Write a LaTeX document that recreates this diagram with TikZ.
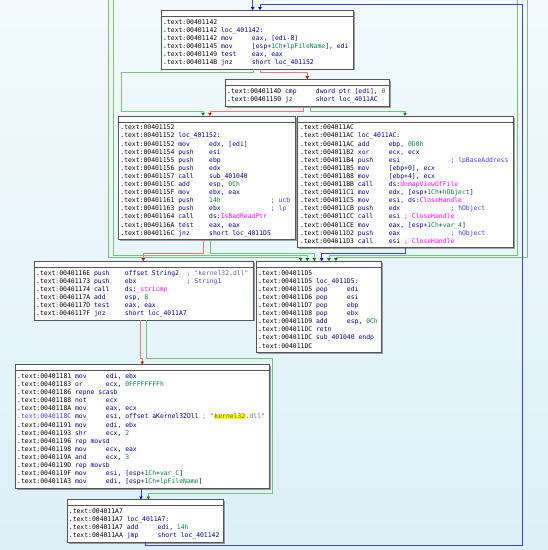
\documentclass[tikz,border=0pt]{standalone}
\usepackage{fontspec}
\usepackage{xcolor}
\usetikzlibrary{arrows.meta}
\usetikzlibrary{shadows}
\newfontfamily\idafont{DejaVu Sans Mono}
\definecolor{idanavy}{RGB}{0,0,128}
\definecolor{idanum}{RGB}{0,128,64}
\definecolor{idaimp}{RGB}{255,0,255}
\definecolor{idacmt}{RGB}{60,60,240}
\definecolor{idastr}{RGB}{100,100,135}
\definecolor{idaframe}{RGB}{85,85,85}
\definecolor{idayel}{RGB}{255,255,0}
\definecolor{idagreen}{RGB}{120,195,120}
\definecolor{idared}{RGB}{235,120,120}
\definecolor{idablue}{RGB}{60,60,235}
\definecolor{greentip}{RGB}{0,120,0}
\definecolor{redtip}{RGB}{220,0,0}
\definecolor{bluetip}{RGB}{0,0,220}
\definecolor{bgtop}{RGB}{242,250,253}
\definecolor{bgbot}{RGB}{220,240,248}
\newlength\cw
\setlength\cw{3.86pt}
\newcommand\ad[1]{\textcolor{black}{\makebox[15\cw][l]{.text:#1}}}
\newcommand\nm[1]{\textcolor{idanum}{#1}}
\newcommand\imp[1]{\textcolor{idaimp}{#1}}
\newcommand\cmt[1]{\textcolor{idacmt}{#1}}
\newcommand\hlt[1]{{\setlength\fboxsep{0.4pt}\colorbox{idayel}{#1}}}
\newcommand\lbl[2]{\strut\ad{#1}#2}
\newcommand\asm[3]{\strut\ad{#1}\makebox[8\cw][l]{#2}#3}
\newcommand\asmc[4]{\strut\ad{#1}\makebox[8\cw][l]{#2}\makebox[16\cw][l]{#3}\cmt{; #4}}
\tikzset{
  blk/.style={draw=idaframe, fill=white, anchor=north west, inner sep=0pt, line width=0.6pt,
    drop shadow={shadow xshift=1.6pt, shadow yshift=-1.6pt, fill=black!60, opacity=0.6},
    path picture={\draw[idaframe, line width=0.5pt] ([yshift=-6pt]path picture bounding box.north west) -- ([yshift=-6pt]path picture bounding box.north east);}},
  code/.style={anchor=north west, inner sep=0pt, align=left, text=idanavy,
    font=\idafont\fontsize{6.41}{8.1}\selectfont\frenchspacing},
  eg/.style={draw=idagreen, line width=0.9pt, -{Triangle[width=3.4pt,length=2.8pt,color=greentip]}},
  er/.style={draw=idared, line width=0.9pt, -{Triangle[width=3.4pt,length=2.8pt,color=redtip]}},
  eb/.style={draw=idablue, line width=1pt, -{Triangle[width=3.4pt,length=2.8pt,color=bluetip]}}
}
\begin{document}
\begin{tikzpicture}[x=1pt,y=-1pt]
\useasboundingbox (0,0) rectangle (548,550);
\shade[top color=bgtop, bottom color=bgbot] (0,0) rectangle (548,550);

\node[blk, minimum width=192pt, minimum height=58.5pt] (b1) at (161,10) {};
\node[code] (b1t) at ([shift={(2,8.3)}]b1.north west) {%
\lbl{00401142}{}\\
\lbl{00401142}{loc\_401142:}\\
\asm{00401142}{mov}{eax, [edi-8]}\\
\asm{00401145}{mov}{[esp+\nm{1Ch}+\nm{lpFileName}], edi}\\
\asm{00401149}{test}{eax, eax}\\
\asm{0040114B}{jnz}{short loc\_401152}};

\node[blk, minimum width=164pt, minimum height=27pt] (b2) at (225,79) {};
\node[code] (b2t) at ([shift={(2,8.3)}]b2.north west) {%
\asm{0040114D}{cmp}{dword ptr [edi], \nm{0}}\\
\asm{00401150}{jz}{short loc\_4011AC}};

\node[blk, minimum width=177.3pt, minimum height=123.3pt] (b3) at (117.7,115.7) {};
\node[code] (b3t) at ([shift={(2.5,8.3)}]b3.north west) {%
\lbl{00401152}{}\\
\lbl{00401152}{loc\_401152:}\\
\asm{00401152}{mov}{edx, [edi]}\\
\asm{00401154}{push}{esi}\\
\asm{00401155}{push}{ebp}\\
\asm{00401156}{push}{edx}\\
\asm{00401157}{call}{sub\_401040}\\
\asm{0040115C}{add}{esp, \nm{0Ch}}\\
\asm{0040115F}{mov}{ebx, eax}\\
\asmc{00401161}{push}{\nm{14h}}{ucb}\\
\asmc{00401163}{push}{ebx}{lp}\\
\asm{00401164}{call}{ds:\imp{IsBadReadPtr}}\\
\asm{0040116A}{test}{eax, eax}\\
\asm{0040116C}{jnz}{short loc\_4011D5}};

\node[blk, minimum width=215.4pt, minimum height=131.4pt] (b4) at (297.3,115.7) {};
\node[code] (b4t) at ([shift={(2.5,8.3)}]b4.north west) {%
\lbl{004011AC}{}\\
\lbl{004011AC}{loc\_4011AC:}\\
\asm{004011AC}{add}{ebp, \nm{0D0h}}\\
\asm{004011B2}{xor}{ecx, ecx}\\
\asmc{004011B4}{push}{esi}{lpBaseAddress}\\
\asm{004011B5}{mov}{[ebp+0], ecx}\\
\asm{004011B8}{mov}{[ebp+4], ecx}\\
\asm{004011BB}{call}{ds:\imp{UnmapViewOfFile}}\\
\asm{004011C1}{mov}{edx, [esp+\nm{1Ch}+\nm{hObject}]}\\
\asm{004011C5}{mov}{esi, ds:\imp{CloseHandle}}\\
\asmc{004011CB}{push}{edx}{hObject}\\
\asm{004011CC}{call}{esi \imp{; CloseHandle}}\\
\asm{004011CE}{mov}{eax, [esp+\nm{1Ch}+\nm{var\_4}]}\\
\asmc{004011D2}{push}{eax}{hObject}\\
\asm{004011D3}{call}{esi \imp{; CloseHandle}}};

\node[blk, minimum width=218.7pt, minimum height=58.5pt] (b5) at (34,261) {};
\node[code] (b5t) at ([shift={(2,8.3)}]b5.north west) {%
\asm{0040116E}{push}{\makebox[16\cw][l]{offset String2}\textcolor{idastr}{; "kernel32.dll"}}\\
\asmc{00401173}{push}{ebx}{String1}\\
\asm{00401174}{call}{ds:\imp{\_stricmp}}\\
\asm{0040117A}{add}{esp, \nm{8}}\\
\asm{0040117D}{test}{eax, eax}\\
\asm{0040117F}{jnz}{short loc\_4011A7}};

\node[blk, minimum width=125pt, minimum height=90.9pt] (b6) at (256,261) {};
\node[code] (b6t) at ([shift={(2,8.3)}]b6.north west) {%
\lbl{004011D5}{}\\
\lbl{004011D5}{loc\_4011D5:}\\
\asm{004011D5}{pop}{edi}\\
\asm{004011D6}{pop}{esi}\\
\asm{004011D7}{pop}{ebp}\\
\asm{004011D8}{pop}{ebx}\\
\asm{004011D9}{add}{esp, \nm{0Ch}}\\
\asm{004011DC}{retn}{}\\
\lbl{004011DC}{sub\_401040 endp}\\
\lbl{004011DC}{}};

\node[blk, minimum width=254.3pt, minimum height=123.3pt] (b7) at (15,364.3) {};
\node[code] (b7t) at ([shift={(2,8.3)}]b7.north west) {%
\asm{00401181}{mov}{edi, ebx}\\
\asm{00401183}{or}{ecx, \nm{0FFFFFFFFh}}\\
\lbl{00401186}{repne scasb}\\
\asm{00401188}{not}{ecx}\\
\asm{0040118A}{mov}{eax, ecx}\\
\strut\textcolor{idacmt}{\makebox[15\cw][l]{.text:0040118C}}\makebox[8\cw][l]{mov}esi, offset aKernel32Dll \textcolor{idastr}{; "\hlt{kernel32}.dll"}\\
\asm{00401191}{mov}{edi, ebx}\\
\asm{00401193}{shr}{ecx, \nm{2}}\\
\lbl{00401196}{rep movsd}\\
\asm{00401198}{mov}{ecx, eax}\\
\asm{0040119A}{and}{ecx, \nm{3}}\\
\lbl{0040119D}{rep movsb}\\
\asm{0040119F}{mov}{esi, [esp+\nm{1Ch}+\nm{var\_C}]}\\
\asm{004011A3}{mov}{edi, [esp+\nm{1Ch}+\nm{lpFileName}]}};

\node[blk, minimum width=156pt, minimum height=42.3pt] (b8) at (66.7,499.3) {};
\node[code] (b8t) at ([shift={(2,8.3)}]b8.north west) {%
\lbl{004011A7}{}\\
\lbl{004011A7}{loc\_4011A7:}\\
\asm{004011A7}{add}{edi, \nm{14h}}\\
\asm{004011AA}{jmp}{short loc\_401142}};

\coordinate (upL1) at (108,0);
\coordinate (upL2) at (113,0);
\coordinate (upR1) at (517,0);
\coordinate (upR2) at (527,0);
\coordinate (upM) at (252.7,0);

\draw[eb] (upM) -- (b1.north -| 252.7,0);
\draw[eg] (b1.south -| 253,0) |- (121,72.7) |- (203,111) -- (b3.north -| 203,0);
\draw[er] (b1.south -| 260,0) |- (307.3,72.7) -- (b2.north -| 307.3,0);
\draw[er] (b2.south -| 303.3,0) |- (210,111) -- (b3.north -| 210,0);
\draw[eg] (b2.south -| 310,0) |- (405,111) -- (b4.north -| 405,0);
\draw[er] (b3.south -| 203,0) |- (143.3,253.3) -- (b5.north -| 143.3,0);
\draw[eg] (b3.south -| 210,0) |- (314.3,253) -- (b6.north -| 314.3,0);
\draw[eb] (b4.south -| 405,0) |- (321.7,253.3) -- (b6.north -| 321.7,0);
\draw[eg] (upL1) |- (300.7,257) -- (b6.north -| 300.7,0);
\draw[eg] (upL2) |- (307.3,255) -- (b6.north -| 307.3,0);
\draw[eg] (upR1) |- (329,255) -- (b6.north -| 329,0);
\draw[eg] (upR2) |- (336,257) -- (b6.north -| 336,0);
\draw[er] (b5.south -| 140,0) |- (142.3,358.3) -- (b7.north -| 142.3,0);
\draw[eg] (b5.south -| 146.7,0) |- (272.7,358.3) |- (148.3,493.3) -- (b8.north -| 148.3,0);
\draw[eb] (b7.south -| 141,0) -- (b8.north -| 141,0);
\draw[eb] (b8.south -| 145,0) |- (522,545.6) |- (260,4.5) -- (b1.north -| 260,0);
\end{tikzpicture}
\end{document}
